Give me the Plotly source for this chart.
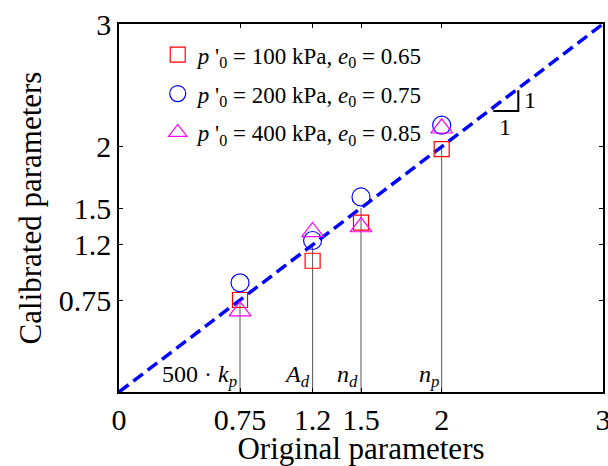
import plotly.graph_objects as go

# Data
orig = [0.75, 1.2, 1.5, 2.0]
param_labels = ["500 · <i>k</i><sub><i>p</i></sub>", "<i>A</i><sub><i>d</i></sub>",
                "<i>n</i><sub><i>d</i></sub>", "<i>n</i><sub><i>p</i></sub>"]
cal_100 = [0.75, 1.07, 1.38, 1.98]
cal_200 = [0.89, 1.235, 1.59, 2.175]
cal_400 = [0.66, 1.305, 1.345, 2.15]
series_names = ["<i>p</i> '<sub>0</sub> = 100 kPa, <i>e</i><sub>0</sub> = 0.65",
                "<i>p</i> '<sub>0</sub> = 200 kPa, <i>e</i><sub>0</sub> = 0.75",
                "<i>p</i> '<sub>0</sub> = 400 kPa, <i>e</i><sub>0</sub> = 0.85"]
x_ticks = [0, 0.75, 1.2, 1.5, 2, 3]
y_ticks = [0.75, 1.2, 1.5, 2, 3]
axis_range = [0, 3]

FONT = "Liberation Serif"
fig = go.Figure()

# stems from 0 up to the 1:1 line
for xv in orig:
    fig.add_trace(go.Scatter(x=[xv, xv], y=[0, xv], mode="lines",
                             line=dict(color="#555555", width=1), showlegend=False,
                             hoverinfo="skip"))

# 1:1 line
fig.add_trace(go.Scatter(x=axis_range, y=axis_range, mode="lines",
                         line=dict(color="#0000ff", width=3.5, dash="12px,6px"),
                         showlegend=False))

styles = [("square-open", "#ff0000", 15), ("circle-open", "#0000ff", 18),
          ("triangle-up-open", "#ff00ff", 19)]
for i, (vals, name, (sym, col, sz)) in enumerate(zip([cal_100, cal_200, cal_400], series_names, styles)):
    fig.add_trace(go.Scatter(x=orig, y=vals, mode="markers", name=name,
                             legendgroup=f"g{i}",
                             marker=dict(symbol=sym, color=col, size=sz,
                                         line=dict(color=col, width=1.2))))

# parameter labels
for xv, lab in zip(orig, param_labels):
    fig.add_annotation(x=xv, y=0.13, text=lab, showarrow=False, xanchor="right",
                       yanchor="middle", xshift=-1,
                       font=dict(family=FONT, size=24, color="black"))

# slope triangle
tri_x = [2.32, 2.475, 2.475]
tri_y = [2.29, 2.29, 2.46]
fig.add_trace(go.Scatter(x=tri_x, y=tri_y, mode="lines",
                         line=dict(color="black", width=2), showlegend=False))
fig.add_annotation(x=2.475, y=2.38, text="1", showarrow=False, xanchor="left",
                   xshift=4, font=dict(family=FONT, size=24, color="black"))
fig.add_annotation(x=2.39, y=2.29, text="1", showarrow=False, yanchor="top",
                   yshift=-1, font=dict(family=FONT, size=24, color="black"))

axis_common = dict(showgrid=False, zeroline=False, automargin=False,
                   showline=True, linecolor="black", linewidth=1.5, mirror="ticks",
                   ticks="inside", ticklen=4, tickcolor="black",
                   tickfont=dict(family=FONT, size=30, color="black"))
fig.update_xaxes(**axis_common, range=axis_range, tickvals=x_ticks,
                 ticktext=[str(v) for v in x_ticks], ticklabeloverflow="allow",
                 title=dict(text="Original parameters", standoff=4,
                            font=dict(family=FONT, size=31, color="black")))
fig.update_yaxes(**axis_common, range=axis_range, tickvals=y_ticks,
                 ticktext=[str(v) for v in y_ticks],
                 title=dict(text="Calibrated parameters", standoff=8,
                            font=dict(family=FONT, size=31, color="black")))

fig.update_layout(
    width=608, height=466,
    margin=dict(l=119, r=5, t=24, b=74, autoexpand=False),
    plot_bgcolor="white", paper_bgcolor="white",
    legend=dict(x=0.08, y=0.975, xanchor="left", yanchor="top",
                bgcolor="rgba(0,0,0,0)", tracegroupgap=6,
                font=dict(family=FONT, size=23, color="black")),
)

fig.write_html("out.html")
